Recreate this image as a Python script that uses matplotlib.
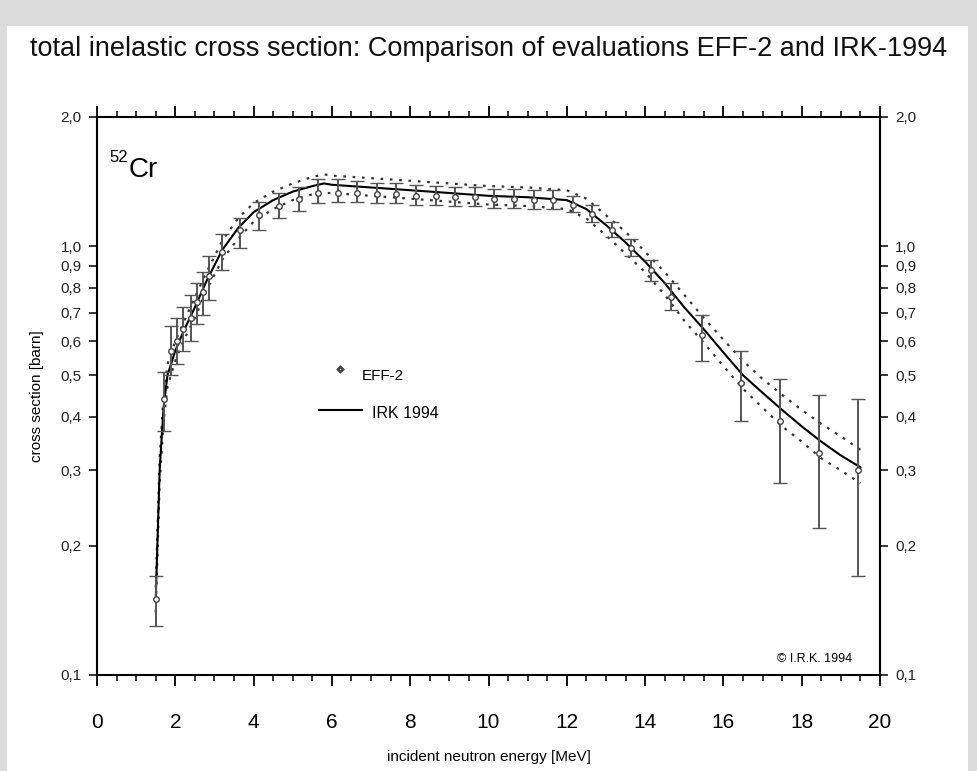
import matplotlib
matplotlib.use("Agg")
import matplotlib.pyplot as plt
from matplotlib.patches import Rectangle
from matplotlib.ticker import FixedLocator, FixedFormatter, MultipleLocator

plt.rcParams['font.family'] = ['Liberation Sans', 'DejaVu Sans']

# --- EFF-2 evaluation points (energy MeV, cross section barn, error bar limits) ---
eff_e = [1.5, 1.7, 1.9, 2.05, 2.2, 2.4, 2.55, 2.7, 2.85, 3.2, 3.65, 4.15, 4.65,
         5.15, 5.65, 6.15, 6.65, 7.15, 7.65, 8.15, 8.65, 9.15, 9.65, 10.15,
         10.65, 11.15, 11.65, 12.15, 12.65, 13.15, 13.65, 14.15, 14.65,
         15.45, 16.45, 17.45, 18.45, 19.45]
eff_val = [0.15, 0.44, 0.57, 0.60, 0.64, 0.68, 0.74, 0.78, 0.85, 0.97, 1.09, 1.18, 1.24,
           1.29, 1.33, 1.33, 1.33, 1.32, 1.32, 1.31, 1.31, 1.30, 1.30, 1.29,
           1.29, 1.28, 1.28, 1.25, 1.19, 1.09, 0.99, 0.88, 0.76,
           0.62, 0.48, 0.39, 0.33, 0.30]
eff_lo = [0.13, 0.37, 0.50, 0.53, 0.57, 0.60, 0.66, 0.69, 0.75, 0.88, 0.99, 1.09, 1.16,
          1.21, 1.26, 1.27, 1.27, 1.26, 1.26, 1.25, 1.25, 1.24, 1.24, 1.23,
          1.23, 1.22, 1.22, 1.20, 1.14, 1.05, 0.95, 0.83, 0.71,
          0.54, 0.39, 0.28, 0.22, 0.17]
eff_hi = [0.17, 0.51, 0.65, 0.68, 0.72, 0.77, 0.82, 0.87, 0.95, 1.07, 1.16, 1.27, 1.33,
          1.37, 1.43, 1.43, 1.42, 1.40, 1.40, 1.39, 1.38, 1.37, 1.37, 1.36,
          1.36, 1.35, 1.35, 1.31, 1.25, 1.14, 1.04, 0.93, 0.82,
          0.69, 0.57, 0.49, 0.45, 0.44]

# --- IRK 1994 evaluation curve with its uncertainty band ---
irk_e = [1.5, 1.6, 1.7, 1.8, 2.0, 2.2, 2.5, 2.8, 3.2, 3.6, 4.0, 4.5, 5.0, 5.5, 5.8,
         6.0, 7.0, 8.0, 9.0, 10.0, 11.0, 12.0, 12.5, 13.0, 13.5, 14.0, 14.5,
         15.0, 15.5, 16.0, 16.5, 17.0, 17.5, 18.0, 18.5, 19.0, 19.5]
irk_val = [0.15, 0.30, 0.42, 0.50, 0.57, 0.63, 0.72, 0.83, 0.98, 1.10, 1.20, 1.28, 1.34, 1.38, 1.40,
           1.39, 1.37, 1.35, 1.33, 1.31, 1.30, 1.28, 1.22, 1.12, 1.02, 0.92, 0.82,
           0.72, 0.64, 0.565, 0.50, 0.455, 0.415, 0.38, 0.35, 0.325, 0.305]
irk_up = [0.16, 0.32, 0.45, 0.53, 0.60, 0.66, 0.76, 0.87, 1.03, 1.16, 1.26, 1.34, 1.40, 1.45, 1.47,
          1.46, 1.44, 1.42, 1.40, 1.38, 1.37, 1.35, 1.29, 1.18, 1.08, 0.97, 0.87,
          0.77, 0.68, 0.605, 0.54, 0.49, 0.45, 0.415, 0.385, 0.36, 0.335]
irk_dn = [0.14, 0.28, 0.39, 0.47, 0.54, 0.60, 0.68, 0.79, 0.93, 1.04, 1.14, 1.22, 1.28, 1.32, 1.33,
          1.33, 1.31, 1.29, 1.27, 1.25, 1.24, 1.22, 1.16, 1.06, 0.96, 0.87, 0.77,
          0.67, 0.595, 0.525, 0.465, 0.42, 0.38, 0.35, 0.32, 0.30, 0.28]

y_ticks = [0.1, 0.2, 0.3, 0.4, 0.5, 0.6, 0.7, 0.8, 0.9, 1.0, 2.0]
y_labels = ["0,1", "0,2", "0,3", "0,4", "0,5", "0,6", "0,7", "0,8", "0,9", "1,0", "2,0"]

fig = plt.figure(figsize=(9.77, 7.71), dpi=100)
fig.patch.set_facecolor("#dcdcdc")
fig.patches.append(Rectangle((7 / 977, 0), 961 / 977, 745 / 771, transform=fig.transFigure,
                             facecolor="white", edgecolor="none", zorder=-10))

fig.text(0.5, 0.937, "total inelastic cross section: Comparison of evaluations EFF-2 and IRK-1994",
         ha="center", va="center", fontsize=19.5, color="#111111")

ax = fig.add_axes([97 / 977, 96 / 771, 783 / 977, 558 / 771])
ax.set_facecolor("white")

# uncertainty band of IRK (dotted)
ax.plot(irk_e, irk_up, color="#333333", linestyle=(0, (1.2, 3)), linewidth=1.6)
ax.plot(irk_e, irk_dn, color="#333333", linestyle=(0, (1.2, 3)), linewidth=1.6)
ax.plot(irk_e, irk_val, color="black", linewidth=1.5)

# EFF-2 with error bars
yerr = [[v - l for v, l in zip(eff_val, eff_lo)], [h - v for v, h in zip(eff_val, eff_hi)]]
ax.errorbar(eff_e, eff_val, yerr=yerr, fmt="o", markersize=4, markerfacecolor="white",
            markeredgecolor="#444444", markeredgewidth=1.0, ecolor="#555555",
            elinewidth=1.4, capsize=5, capthick=1.4)

ax.set_yscale("log")
ax.set_xlim(0, 20)
ax.set_ylim(0.1, 2.0)
ax.yaxis.set_major_locator(FixedLocator(y_ticks))
ax.yaxis.set_major_formatter(FixedFormatter(y_labels))
ax.yaxis.set_minor_locator(FixedLocator([]))
ax.xaxis.set_major_locator(MultipleLocator(2))
ax.xaxis.set_minor_locator(MultipleLocator(0.5))

ax.tick_params(axis="x", which="major", direction="out", length=8, width=1.3,
               top=True, labelsize=15, pad=19)
ax.tick_params(axis="x", which="minor", direction="out", length=4, width=1.1, top=True)
ax.tick_params(axis="y", which="major", direction="out", length=6, width=1.1,
               right=True, labelright=True, labelsize=11, pad=5, labelcolor="#222222")
for s in ax.spines.values():
    s.set_linewidth(1.5)

ax.set_xlabel("incident neutron energy [MeV]", fontsize=11, labelpad=13)
ax.set_ylabel("cross section [barn]", fontsize=11, labelpad=12)

# nuclide label
ax.text(0.016, 0.927, "52", transform=ax.transAxes, fontsize=12, va="center", ha="left")
ax.text(0.040, 0.905, "Cr", transform=ax.transAxes, fontsize=20, va="center", ha="left")

# legend drawn by hand
ax.plot([0.310], [0.548], transform=ax.transAxes, marker="$\\diamond$", markersize=5,
        color="#444444", linestyle="none")
ax.text(0.338, 0.535, "EFF-2", transform=ax.transAxes, fontsize=11, va="center", ha="left")
ax.plot([0.283, 0.338], [0.475, 0.475], transform=ax.transAxes, color="black", linewidth=1.5)
ax.text(0.351, 0.468, "IRK 1994", transform=ax.transAxes, fontsize=11.5, va="center", ha="left")

ax.text(0.965, 0.028, "\u00a9 I.R.K. 1994", transform=ax.transAxes, fontsize=9,
        va="center", ha="right")

fig.savefig("out.png", dpi=100, facecolor=fig.get_facecolor())
